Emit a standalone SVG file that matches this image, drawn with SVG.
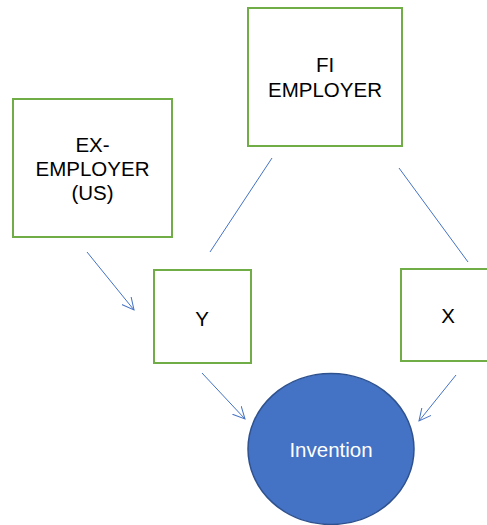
<svg xmlns="http://www.w3.org/2000/svg" width="487" height="525" viewBox="0 0 487 525">
<defs>
<marker id="arr" markerUnits="userSpaceOnUse" markerWidth="16" markerHeight="16" refX="12" refY="6" orient="auto" viewBox="0 0 16 12">
<path d="M0,0 L12,6 L0,12" fill="none" stroke="#4472C4" stroke-width="1"/>
</marker>
</defs>
<style>
.box{fill:#fff;stroke:#70AD47;stroke-width:2}
.t{font-family:"Liberation Sans",Arial,sans-serif;font-size:20.5px;fill:#000;text-anchor:middle}
.c{stroke:#4472C4;stroke-width:1;fill:none}
</style>
<rect width="487" height="525" fill="#fff"/>
<g id="ex-employer">
<rect class="box" x="13" y="99" width="159" height="138"/>
<text class="t" x="92.5" y="152">EX-</text>
<text class="t" x="92.5" y="176">EMPLOYER</text>
<text class="t" x="92.5" y="200">(US)</text>
</g>
<g id="fi-employer">
<rect class="box" x="248" y="8" width="154" height="138"/>
<text class="t" x="325" y="72">FI</text>
<text class="t" x="325" y="97">EMPLOYER</text>
</g>
<g id="y">
<rect class="box" x="154" y="270" width="97" height="93"/>
<text class="t" x="202" y="326">Y</text>
</g>
<g id="x">
<rect class="box" x="401" y="269" width="96" height="92"/>
<text class="t" x="448" y="323">X</text>
</g>
<g id="invention">
<ellipse cx="331" cy="449" rx="83" ry="75.5" fill="#4472C4" stroke="#2F528F" stroke-width="1.5"/>
<text class="t" x="331" y="457" style="fill:#fff">Invention</text>
</g>
<g id="connectors">
<line class="c" x1="87" y1="252" x2="134" y2="310" marker-end="url(#arr)"/>
<line class="c" x1="272" y1="158" x2="210" y2="252"/>
<line class="c" x1="399" y1="168" x2="468" y2="262"/>
<line class="c" x1="202" y1="373" x2="245" y2="419" marker-end="url(#arr)"/>
<line class="c" x1="456" y1="375" x2="419" y2="421" marker-end="url(#arr)"/>
</g>
</svg>
